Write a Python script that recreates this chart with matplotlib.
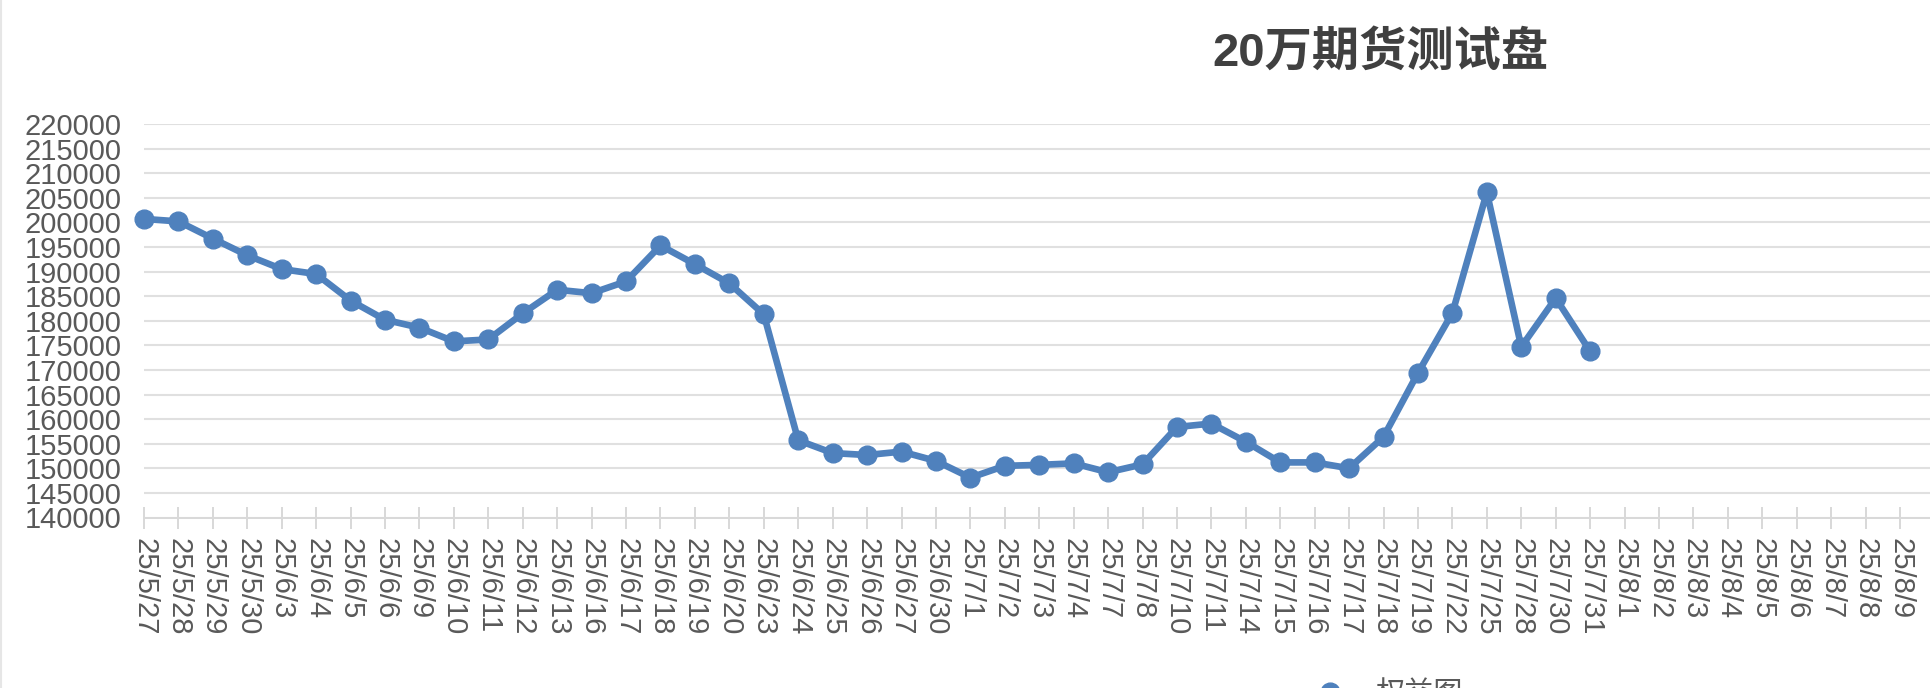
import matplotlib
matplotlib.use("Agg")
import matplotlib.pyplot as plt
from matplotlib.lines import Line2D

# font list: latin first, CJK as fallback
plt.rcParams['font.family'] = ['Liberation Sans', 'Noto Sans CJK SC', 'DejaVu Sans']

# trading days on the x axis
dates = ["25/5/27", "25/5/28", "25/5/29", "25/5/30",
         "25/6/3", "25/6/4", "25/6/5", "25/6/6", "25/6/9", "25/6/10", "25/6/11",
         "25/6/12", "25/6/13", "25/6/16", "25/6/17", "25/6/18", "25/6/19", "25/6/20",
         "25/6/23", "25/6/24", "25/6/25", "25/6/26", "25/6/27", "25/6/30",
         "25/7/1", "25/7/2", "25/7/3", "25/7/4", "25/7/7", "25/7/8", "25/7/10",
         "25/7/11", "25/7/14", "25/7/15", "25/7/16", "25/7/17", "25/7/18", "25/7/19",
         "25/7/22", "25/7/25", "25/7/28", "25/7/30", "25/7/31",
         "25/8/1", "25/8/2", "25/8/3", "25/8/4", "25/8/5", "25/8/6", "25/8/7",
         "25/8/8", "25/8/9"]

# equity values (only up to 25/7/31)
equity = [200700, 200200, 196700, 193300, 190500, 189500, 184100, 180200,
          178600, 175800, 176200, 181500, 186300, 185600, 188000, 195300,
          191500, 187600, 181300, 155700, 153100, 152700, 153400, 151500,
          148100, 150500, 150700, 151000, 149200, 150800, 158400, 159100,
          155400, 151200, 151200, 150000, 156400, 169400, 181600, 206100,
          174700, 184600, 173800]

y_ticks = list(range(140000, 220001, 5000))

title = "20万期货测试盘"
series_name = "权益图"

blue = "#4f81bd"
label_gray = "#595959"

fig = plt.figure(figsize=(19.30, 6.88), dpi=100)
ax = fig.add_axes([144 / 1930, 1 - 517.5 / 688, 1 - 144 / 1930, 393.5 / 688])

x = list(range(len(equity)))
ax.plot(x, equity, color=blue, linewidth=4.8, marker="o", markersize=13.5,
        markerfacecolor=blue, markeredgecolor=blue, clip_on=False, zorder=3,
        label=series_name)

ax.set_xlim(0, 51.87)
ax.set_ylim(140000, 220000)

# category ticks
ax.set_xticks(range(len(dates)))
ax.set_xticklabels(dates, rotation=-90, fontsize=21, color=label_gray)
ax.tick_params(axis="x", direction="inout", length=15.8, width=1.44,
               color="#d9d9d9", pad=6.5)

ax.set_yticks(y_ticks)
ax.set_yticklabels([str(v) for v in y_ticks], fontsize=21, color=label_gray)
ax.tick_params(axis="y", length=0, pad=16)

# grid and spines
ax.yaxis.grid(True, color="#e0e0e0", linewidth=1.5)
ax.set_axisbelow(True)
for side in ["top", "right", "left"]:
    ax.spines[side].set_visible(False)
ax.spines["bottom"].set_color("#d9d9d9")
ax.spines["bottom"].set_linewidth(1.44)
ax.spines["bottom"].set_zorder(2)

# title, placed like the original (right of centre)
fig.text(1380 / 1930, 1 - 53 / 688, title, ha="center", va="center",
         fontsize=34, fontweight="bold", color="#404040")

# legend sits at the bottom edge, mostly cut off like in the original
fig.legend(loc="center left", bbox_to_anchor=(1301 / 1930, (688 - 694) / 688),
           bbox_transform=fig.transFigure, frameon=False, fontsize=21,
           handlelength=2.0, handletextpad=0.55, borderpad=0, borderaxespad=0,
           labelcolor=label_gray)

# thin border at the left edge
fig.add_artist(Line2D([0.0006, 0.0006], [0, 1], color="#e6e6e6", linewidth=1.5,
                      transform=fig.transFigure))

fig.savefig("out.png", dpi=100)
